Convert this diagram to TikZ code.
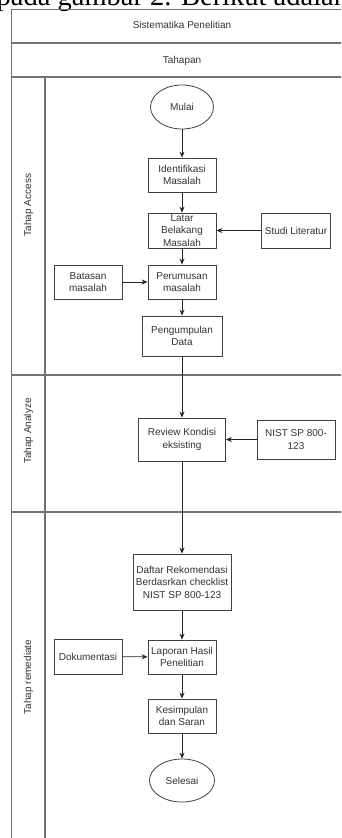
\documentclass[tikz,border=0pt]{standalone}
\usepackage{fontspec}
\setmainfont{Liberation Sans}
\newfontfamily\serifx{Liberation Serif}
\usetikzlibrary{shapes.geometric,arrows.meta}
\tikzset{
  lane/.style={draw=black!55, line width=1.1pt},
  box/.style={draw=black!75, line width=0.8pt, fill=white, rectangle, align=center,
    inner xsep=1pt, inner ysep=0pt, minimum width=68pt, minimum height=34pt,
    text=black!80, font=\fontsize{10}{12.5}\selectfont},
  term/.style={draw=black!75, line width=0.8pt, fill=white, ellipse, inner sep=0pt,
    text=black!80, font=\fontsize{10}{12.5}\selectfont},
  lbl/.style={text=black!80, font=\fontsize{10}{12}\selectfont, inner sep=0pt},
  flow/.style={draw=black!85, line width=0.8pt, -{Stealth[length=6pt,width=5pt]}}
}
\begin{document}
\begin{tikzpicture}[x=1pt,y=-1pt]
\useasboundingbox (0,0) rectangle (341,838);
\clip (0,0) rectangle (341,838);
\fill[white] (0,0) rectangle (341,838);
% cut-off caption text
\node[anchor=base west, inner sep=0pt, font=\serifx\fontsize{28.5}{30}\selectfont] (cap) at (-3.5,5.5) {pada gambar 2. Berikut adalah};
% pool
\draw[lane] (360,9.5) -- (11.5,9.5) -- (11.5,850);
\draw[lane] (11.5,43) -- (360,43);
\draw[lane] (11.5,77) -- (360,77);
\draw[lane] (45,77) -- (45,850);
\draw[lane] (11.5,375) -- (360,375);
\draw[lane] (11.5,512) -- (360,512);
\node[lbl] (h1) at (182,25) {Sistematika Penelitian};
\node[lbl] (h2) at (182,61) {Tahapan};
\node[lbl, rotate=90] (l1) at (28.5,205) {Tahap Access};
\node[lbl, rotate=90] (l2) at (28.5,431) {Tahap Analyze};
\node[lbl, rotate=90] (l3) at (28.5,677) {Tahap remediate};
% nodes
\node[term, minimum width=63pt, minimum height=44pt] (mulai) at (182,107) {Mulai};
\node[box] (ident) at (182,175) {Identifikasi\\Masalah};
\node[box, minimum height=35pt] (latar) at (182,230.5) {Latar\\Belakang\\Masalah};
\node[box, minimum width=69pt, minimum height=35pt] (studi) at (296,230.5) {Studi Literatur};
\node[box] (perum) at (182,282) {Perumusan\\masalah};
\node[box] (batas) at (88,282) {Batasan\\masalah};
\node[box, minimum width=80pt, minimum height=40pt] (pengum) at (182,336) {Pengumpulan\\Data};
\node[box, minimum width=87pt, minimum height=43pt] (review) at (182,439.5) {Review Kondisi\\eksisting};
\node[box, minimum width=78pt, minimum height=39pt] (nist) at (296,439.5) {NIST SP 800-\\123};
\node[box, minimum width=98pt, minimum height=56pt] (daftar) at (182,582) {Daftar Rekomendasi\\Berdasrkan checklist\\NIST SP 800-123};
\node[box] (lapor) at (182,657) {Laporan Hasil\\Penelitian};
\node[box, minimum height=35pt] (dokum) at (88,656.5) {Dokumentasi};
\node[box] (kesim) at (182,716) {Kesimpulan\\dan Saran};
\node[term, minimum width=65pt, minimum height=43pt] (selesai) at (182,780.5) {Selesai};
% connectors
\draw[flow] (mulai) -- (ident);
\draw[flow] (ident) -- (latar);
\draw[flow] (studi) -- (latar);
\draw[flow] (latar) -- (perum);
\draw[flow] (batas) -- (perum);
\draw[flow] (perum) -- (pengum);
\draw[flow] (pengum) -- (review);
\draw[flow] (nist) -- (review);
\draw[flow] (review) -- (daftar);
\draw[flow] (daftar) -- (lapor);
\draw[flow] (dokum) -- (lapor);
\draw[flow] (lapor) -- (kesim);
\draw[flow] (kesim) -- (selesai);
\end{tikzpicture}
\end{document}
